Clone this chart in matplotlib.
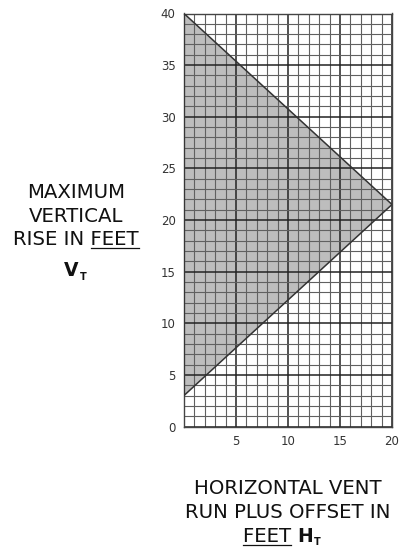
import matplotlib
matplotlib.use("Agg")
import matplotlib.pyplot as plt
from matplotlib.lines import Line2D

# boundary of the allowed region (horizontal run ft, vertical rise ft)
region_x = [0, 20, 0]
region_y = [40, 21.5, 3]

x_ticks = [5, 10, 15, 20]
y_ticks = [0, 5, 10, 15, 20, 25, 30, 35, 40]

FS = 14.2

fig = plt.figure(figsize=(4.01, 5.52), dpi=100)
ax = fig.add_axes([184 / 401, 1 - 426.5 / 552, 208 / 401, 413 / 552])

# shaded region
ax.fill(region_x, region_y, color='#bdbdbd', zorder=1, lw=0)

# grid: every foot, darker every 5 ft
for v in range(0, 21):
    major = v % 5 == 0
    ax.axvline(v, color='#222222' if major else '#606060',
               lw=1.1 if major else 0.8, zorder=2)
for v in range(0, 41):
    major = v % 5 == 0
    ax.axhline(v, color='#222222' if major else '#606060',
               lw=1.1 if major else 0.8, zorder=2)

ax.plot(region_x + [region_x[0]], region_y + [region_y[0]], color='#333333', lw=1.1, zorder=3)

ax.set_xlim(0, 20)
ax.set_ylim(0, 40)
ax.set_xticks(x_ticks)
ax.set_yticks(y_ticks)
ax.tick_params(length=0, labelsize=8.5, labelcolor='#333333', pad=6)
for s in ax.spines.values():
    s.set_color('#444444')
    s.set_linewidth(1)

# left label
lab_kw = dict(ha='center', va='center', fontsize=FS, color='#111111')
fig.text(76 / 401, 1 - 193 / 552, "MAXIMUM", **lab_kw)
fig.text(76 / 401, 1 - 216 / 552, "VERTICAL", **lab_kw)
t1 = fig.text(76 / 401, 1 - 240 / 552, "RISE IN FEET", **lab_kw)

# bottom label
fig.text(288 / 401, 1 - 489 / 552, "HORIZONTAL VENT", **lab_kw)
fig.text(288 / 401, 1 - 512 / 552, "RUN PLUS OFFSET IN", **lab_kw)
t2 = fig.text(297 / 401, 1 - 536 / 552, "FEET ", ha='right', va='center',
              fontsize=FS, color='#111111')

fig.canvas.draw()
r = fig.canvas.get_renderer()
W, H = fig.bbox.width, fig.bbox.height


def width_of(s, **kw):
    t = fig.text(0, 0, s, **kw)
    w = t.get_window_extent(r).width
    t.remove()
    return w


def symbol(x, y, big, small):
    # bold letter with a small bold subscript, x = left edge in px
    b = fig.text(x / W, y / H, big, ha='left', va='center', fontsize=13.5,
                 fontweight='bold', color='#111111')
    bb = b.get_window_extent(r)
    fig.text((bb.x1 + 1) / W, (y - 6) / H, small, ha='left', va='center',
             fontsize=7, fontweight='bold', color='#111111')


# V_T under the left label, H_T after "FEET"
symbol(64, H - 271, "V", "T")
bb2 = t2.get_window_extent(r)
symbol(bb2.x1, H - 536, "H", "T")

# underline "FEET" in both labels
bb = t1.get_window_extent(r)
fw = width_of("FEET", fontsize=FS)
fig.add_artist(Line2D([(bb.x1 - fw) / W, bb.x1 / W], [(bb.y0 + 1) / H] * 2,
                      color='#111111', lw=0.9))
sw = width_of(" ", fontsize=FS)
fig.add_artist(Line2D([bb2.x0 / W, (bb2.x1 - sw) / W], [(bb2.y0 + 1) / H] * 2,
                      color='#111111', lw=0.9))

plt.savefig("out.png", dpi=100)
